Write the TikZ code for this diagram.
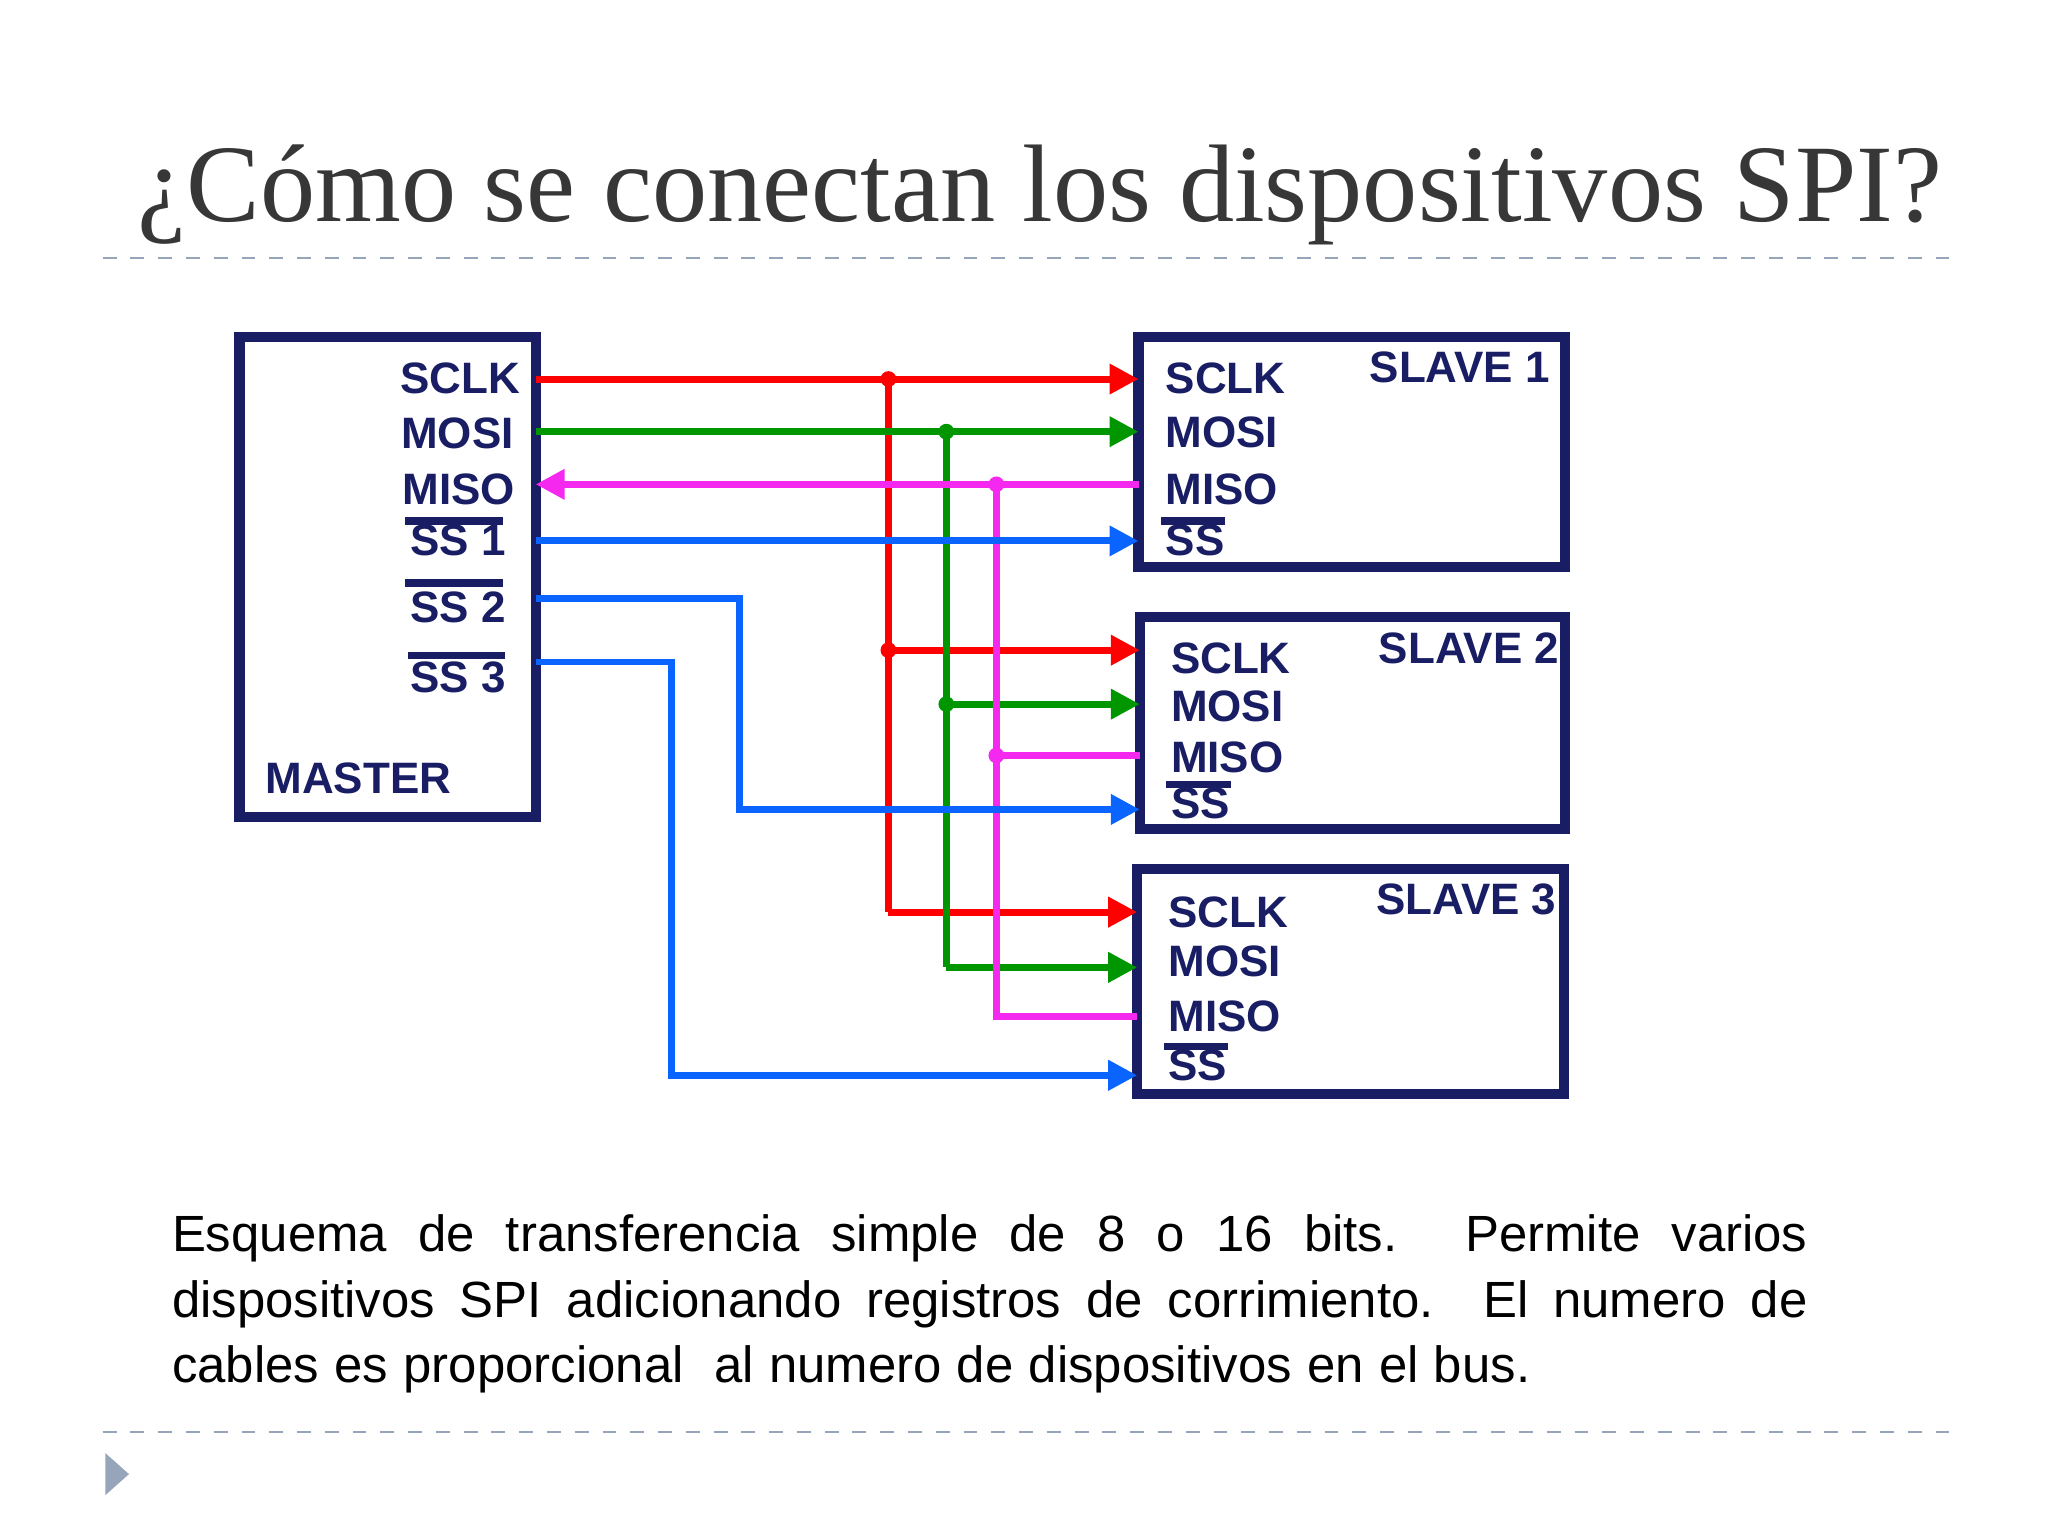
\documentclass[tikz,border=0pt]{standalone}
\usepackage{fontspec}
\setmainfont{Liberation Serif}
\setsansfont{Liberation Sans}
\usetikzlibrary{arrows.meta}
\definecolor{navy}{RGB}{25,30,100}
\definecolor{wred}{RGB}{255,0,0}
\definecolor{wgreen}{RGB}{0,150,0}
\definecolor{wmag}{RGB}{245,40,240}
\definecolor{wblue}{RGB}{10,100,255}
\definecolor{dashcol}{RGB}{150,165,185}
\tikzset{
 box/.style={draw=navy,line width=2.2pt},
 pin/.style={font=\sffamily\bfseries\fontsize{9.5}{10}\selectfont,text=navy,inner sep=0pt,anchor=base west},
 wire/.style={line width=1.5pt},
 arr/.style={wire,-{Triangle[length=0.22cm,width=0.22cm]}},
 dot/.style={circle,fill,inner sep=0pt,minimum size=0.12cm},
 ovl/.style={draw=navy,line width=1.6pt}
}
\begin{document}
\begin{tikzpicture}[x=0.01cm,y=-0.01cm]
\useasboundingbox (0,0) rectangle (1556,1168);
\node[font=\rmfamily,text={rgb,255:red,55;green,55;blue,55},inner sep=0pt] (title) at (790,148) {\resizebox{13.7cm}{!}{¿Cómo se conectan los dispositivos SPI?}};
\draw[dashcol,dashed,line width=0.6pt] (78,196) -- (1490,196);
\draw[dashcol,dashed,line width=0.6pt] (78,1088) -- (1490,1088);
\fill[dashcol] (80,1104) -- (98,1120) -- (80,1136) -- cycle;
% boxes
\draw[box] (182,256) rectangle (407,621);
\draw[box] (865,256) rectangle (1189,431);
\draw[box] (866,469) rectangle (1189,630);
\draw[box] (864,660) rectangle (1188,831);
% master labels
\node[pin,anchor=base east] (mclk) at (396,299) {SCLK};
\node[pin,anchor=base east] (mmosi) at (391,341) {MOSI};
\node[pin,anchor=base east] (mmiso) at (392,383) {MISO};
\node[pin] (mss1) at (311,422) {SS 1};
\node[pin] (mss2) at (311,473) {SS 2};
\node[pin] (mss3) at (311,526) {SS 3};
\node[pin] (mname) at (201,603) {MASTER};
\draw[ovl] (308,396) -- (382,396);
\draw[ovl] (308,443) -- (382,443);
\draw[ovl] (310,498) -- (384,498);
% slave labels
\foreach \n/\x/\a/\b/\c/\d/\t/\tx/\ty in {1/885/299/340/383/422/SLAVE 1/1040/291, 2/889/512/548/587/622/SLAVE 2/1047/504, 3/887/705/742/784/821/SLAVE 3/1045/695}{
 \node[pin] (s\n clk) at (\x,\a) {SCLK};
 \node[pin] (s\n mosi) at (\x,\b) {MOSI};
 \node[pin] (s\n miso) at (\x,\c) {MISO};
 \node[pin] (s\n ss) at (\x,\d) {SS};
 \node[pin] (s\n name) at (\tx,\ty) {\t};
 \draw[ovl] (\x-3,\d-26) -- (\x+46,\d-26);
}
% wires
\coordinate (rj1) at (675,288); \coordinate (rj2) at (675,494);
\draw[arr,wred] (407,288) -- (865,288);
\draw[wire,wred] (rj1) -- (675,693);
\draw[arr,wred] (rj2) -- (866,494);
\draw[arr,wred] (675,693) -- (864,693);
\node[dot,wred] at (rj1) {}; \node[dot,wred] at (rj2) {};
\coordinate (gj1) at (719,328); \coordinate (gj2) at (719,535);
\draw[arr,wgreen] (407,328) -- (865,328);
\draw[wire,wgreen] (gj1) -- (719,735);
\draw[arr,wgreen] (gj2) -- (866,535);
\draw[arr,wgreen] (719,735) -- (864,735);
\node[dot,wgreen] at (gj1) {}; \node[dot,wgreen] at (gj2) {};
\coordinate (mj1) at (757,368); \coordinate (mj2) at (757,574);
\draw[arr,wmag] (865,368) -- (407,368);
\draw[wire,wmag] (mj1) -- (757,772) -- (864,772);
\draw[wire,wmag] (866,574) -- (mj2);
\node[dot,wmag] at (mj1) {}; \node[dot,wmag] at (mj2) {};
\draw[arr,wblue] (407,411) -- (865,411);
\draw[arr,wblue] (407,455) -- (562,455) -- (562,615) -- (866,615);
\draw[arr,wblue] (407,503) -- (510,503) -- (510,817) -- (864,817);
% caption
\node[anchor=north west,inner sep=0pt,font=\sffamily\fontsize{11}{14.2}\selectfont] (cap) at (130,922) {\parbox{12.42cm}{\spaceskip=0.3em plus 1em
Esquema de transferencia simple de 8 o 16 bits. Permite varios dispositivos SPI adicionando registros de corrimiento.\ \ El numero de cables es proporcional\ \ al numero de dispositivos en el bus.}};
\end{tikzpicture}
\end{document}
